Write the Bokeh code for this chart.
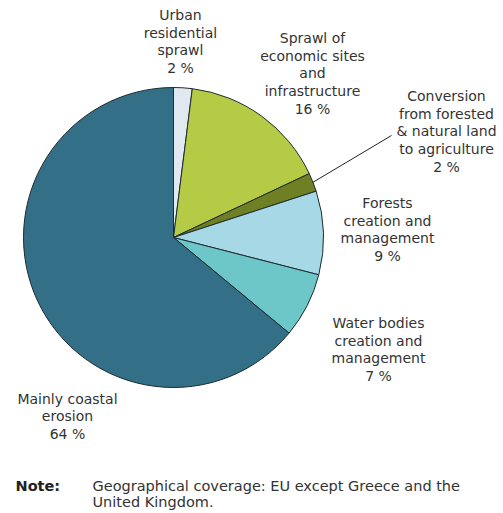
import numpy as np
from bokeh.plotting import figure
from bokeh.models import ColumnDataSource
from bokeh.core.properties import value
from bokeh.embed import file_html
from bokeh.resources import INLINE

# ---- data ----
categories = [
    "Urban\nresidential\nsprawl",
    "Sprawl of\neconomic sites\nand\ninfrastructure",
    "Conversion\nfrom forested\n& natural land\nto agriculture",
    "Forests\ncreation and\nmanagement",
    "Water bodies\ncreation and\nmanagement",
    "Mainly coastal\nerosion",
]
shares = [2, 16, 2, 9, 7, 64]
colors = ["#e2e8ef", "#b5ca45", "#6f8024", "#a7d8e5", "#6dc6c8", "#336f87"]

# label anchor positions (figure pixels, y up)
label_x = [180, 312, 446, 387, 378, 67]
label_y = [472, 440, 382, 284, 164, 97]

W, H = 503, 513
p = figure(width=W, height=H, x_range=(0, W), y_range=(0, H),
           output_backend="svg", toolbar_location=None,
           min_border=0, outline_line_color=None)
p.axis.visible = False
p.grid.visible = False
p.background_fill_color = "white"

cx, cy, r = 173, 276, 150
vals = np.array(shares, dtype=float)
frac = vals / vals.sum()
ends = np.pi / 2 - 2 * np.pi * np.cumsum(frac)
starts = np.concatenate([[np.pi / 2], ends[:-1]])

src = ColumnDataSource(dict(start=starts, end=ends, color=colors))
p.wedge(x=cx, y=cy, radius=r, start_angle="start", end_angle="end",
        direction="clock", fill_color="color", line_color="#1e2b30",
        line_width=1, source=src)

# leader line for the conversion slice
mid = (starts[2] + ends[2]) / 2
lx0 = cx + r * np.cos(mid)
ly0 = cy + r * np.sin(mid)
p.line([lx0, 391], [ly0, 378], line_color="#222222", line_width=1)

texts = [f"{c}\n{s} %" for c, s in zip(categories, shares)]
p.text(x=label_x, y=label_y, text=texts, text_align="center",
       text_baseline="middle", text_font=value("DejaVu Sans"),
       text_font_size="14px", text_color="#333333", text_line_height=1.12)

p.text(x=[15], y=[28], text=["Note:"], text_align="left", text_baseline="middle",
       text_font=value("DejaVu Sans"), text_font_size="14.5px",
       text_font_style="bold", text_color="#222222")
p.text(x=[92], y=[19.5], text=["Geographical coverage: EU except Greece and the\nUnited Kingdom."],
       text_align="left", text_baseline="middle",
       text_font=value("DejaVu Sans"), text_font_size="14.5px",
       text_color="#333333", text_line_height=1.06)

open("out.html", "w").write(file_html(p, INLINE))
